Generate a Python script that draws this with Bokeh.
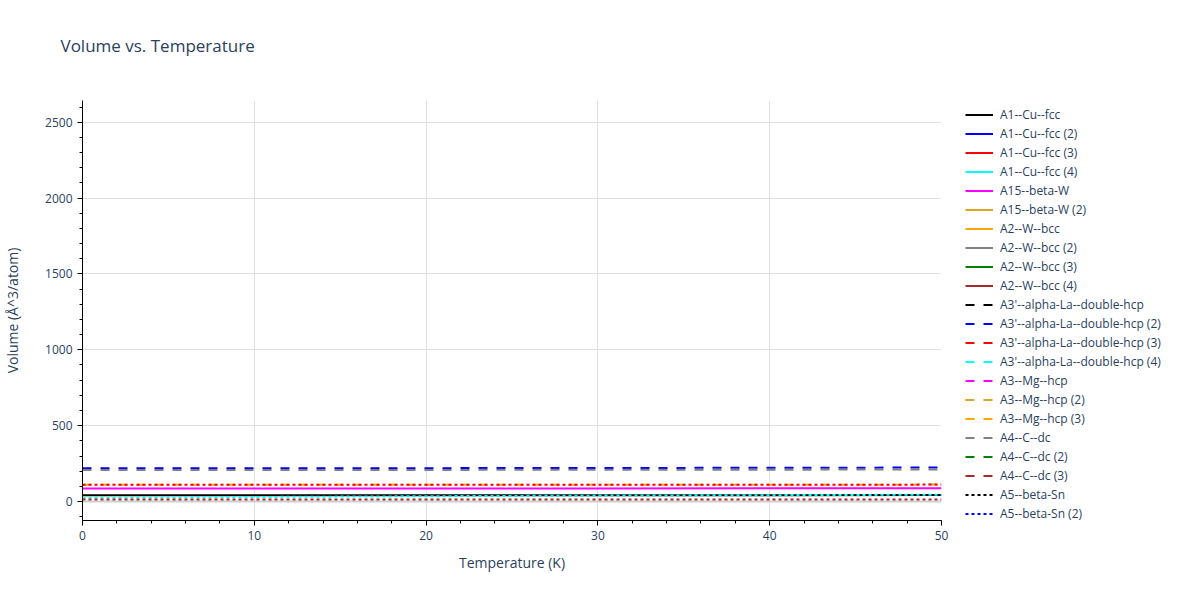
from bokeh.plotting import figure
from bokeh.layouts import row, column
from bokeh.models import Range1d, SingleIntervalTicker, Span, Legend, LegendItem, Label
from bokeh.embed import file_html
from bokeh.resources import INLINE

# ---------------- data ----------------
temperature = [0, 10, 20, 30, 40, 50]

series_names = [
    "A1--Cu--fcc", "A1--Cu--fcc (2)", "A1--Cu--fcc (3)", "A1--Cu--fcc (4)",
    "A15--beta-W", "A15--beta-W (2)",
    "A2--W--bcc", "A2--W--bcc (2)", "A2--W--bcc (3)", "A2--W--bcc (4)",
    "A3'--alpha-La--double-hcp", "A3'--alpha-La--double-hcp (2)",
    "A3'--alpha-La--double-hcp (3)", "A3'--alpha-La--double-hcp (4)",
    "A3--Mg--hcp", "A3--Mg--hcp (2)", "A3--Mg--hcp (3)",
    "A4--C--dc", "A4--C--dc (2)", "A4--C--dc (3)",
    "A5--beta-Sn", "A5--beta-Sn (2)",
]

# volumes (Å^3/atom); series not visible in the 0-50 K window have no values here
vol_A1_Cu_fcc = [41, 41, 41.5, 41.5, 42, 42.5]
vol_A15_beta_W = [86, 86, 86.5, 86.5, 87, 87.5]
vol_A3p_La_dhcp_2 = [219, 219.5, 220, 221, 222.5, 224]
vol_A3_Mg_hcp_2 = [110, 110, 110.5, 110.5, 111, 111.5]
vol_A4_C_dc = [208, 208, 208.5, 209, 210, 211]

# further traces drawn in the plot whose legend entries are beyond the visible legend
vol_extra_red_dot = [110, 110, 110.5, 110.5, 111, 111.5]
vol_extra_cyan_dot = [24, 30, 35, 39, 42, 45]
vol_extra_brown_dot = [13, 13, 13, 13, 13.5, 14]

series_values = {
    "A1--Cu--fcc": vol_A1_Cu_fcc,
    "A15--beta-W": vol_A15_beta_W,
    "A3'--alpha-La--double-hcp (2)": vol_A3p_La_dhcp_2,
    "A3--Mg--hcp (2)": vol_A3_Mg_hcp_2,
    "A4--C--dc": vol_A4_C_dc,
}

palette = ["black", "blue", "red", "cyan", "magenta", "goldenrod",
           "orange", "grey", "green", "brown"]
dash_cycle = ["solid", "9 9", "3 3"]

FONT = "Open Sans"
TXT = "#2a3f5f"

# ---------------- title strip ----------------
tf = figure(width=1184, height=60, x_range=Range1d(0, 1), y_range=Range1d(0, 1),
            output_backend="svg", toolbar_location=None,
            x_axis_location=None, y_axis_location=None, min_border=0)
tf.grid.visible = False
tf.outline_line_color = None
tf.title.visible = False
tf.add_layout(Label(x=60, y=15, x_units="screen", y_units="screen",
                    text="Volume vs. Temperature", text_font=FONT,
                    text_font_size="17px", text_color=TXT, text_baseline="middle"))

# ---------------- main plot ----------------
p = figure(width=951, height=524,
           x_range=Range1d(0, 50), y_range=Range1d(-125, 2643),
           output_backend="svg", toolbar_location=None,
           min_border_left=80, min_border_right=10,
           min_border_top=40, min_border_bottom=64)
p.outline_line_color = None
p.background_fill_color = "white"
p.title.visible = False

p.xgrid.grid_line_color = "#e2e2e2"
p.ygrid.grid_line_color = "#e2e2e2"
p.xaxis.ticker = SingleIntervalTicker(interval=10, num_minor_ticks=5)
p.yaxis.ticker = SingleIntervalTicker(interval=500, num_minor_ticks=5)

zero = Span(location=0, dimension="width", line_color="#cfcfcf", line_width=2, level="underlay")
p.add_layout(zero)

for ax in (p.xaxis[0], p.yaxis[0]):
    ax.axis_line_color = "black"
    ax.major_tick_line_color = "black"
    ax.minor_tick_line_color = "black"
    ax.major_tick_out = 5
    ax.major_tick_in = 0
    ax.minor_tick_out = 3
    ax.minor_tick_in = 0
    ax.major_label_text_font = FONT
    ax.major_label_text_font_size = "12px"
    ax.major_label_text_color = TXT
    ax.axis_label_text_font = FONT
    ax.axis_label_text_font_size = "14px"
    ax.axis_label_text_color = TXT
    ax.axis_label_text_font_style = "normal"
    ax.major_label_standoff = 5

p.xaxis.axis_label = "Temperature (K)"
p.yaxis.axis_label = "Volume (Å^3/atom)"
p.xaxis.major_label_standoff = 5
p.xaxis.axis_label_standoff = 10
p.yaxis.axis_label_standoff = 20

for i, name in enumerate(series_names):
    vals = series_values.get(name)
    if vals:
        p.line(temperature, vals, line_color=palette[i % 10],
               line_dash=dash_cycle[i // 10], line_width=2)

extras = [(22, vol_extra_red_dot), (23, vol_extra_cyan_dot), (29, vol_extra_brown_dot)]
for idx, vals in extras:
    p.line(temperature, vals, line_color=palette[idx % 10],
           line_dash=dash_cycle[idx // 10], line_width=2)

# ---------------- legend panel ----------------
lf = figure(width=233, height=524, x_range=Range1d(0, 1), y_range=Range1d(0, 1),
            output_backend="svg", toolbar_location=None,
            x_axis_location=None, y_axis_location=None,
            min_border=0)
lf.grid.visible = False
lf.outline_line_color = None
lf.title.visible = False

items = []
for i, name in enumerate(series_names):
    r = lf.line([float("nan")], [float("nan")], line_color=palette[i % 10],
                line_dash=dash_cycle[i // 10], line_width=2)
    items.append(LegendItem(label=name, renderers=[r]))

leg = Legend(items=items, location=(14, -2.5))
leg.padding = 0
leg.margin = 0
leg.spacing = 0
leg.label_height = 19
leg.glyph_height = 19
leg.glyph_width = 28
leg.label_standoff = 7
leg.border_line_color = None
leg.background_fill_alpha = 0
leg.label_text_font = FONT
leg.label_text_font_size = "12px"
leg.label_text_color = TXT
lf.add_layout(leg)

layout = column(tf, row(p, lf))
open("out.html", "w").write(file_html(layout, INLINE))
